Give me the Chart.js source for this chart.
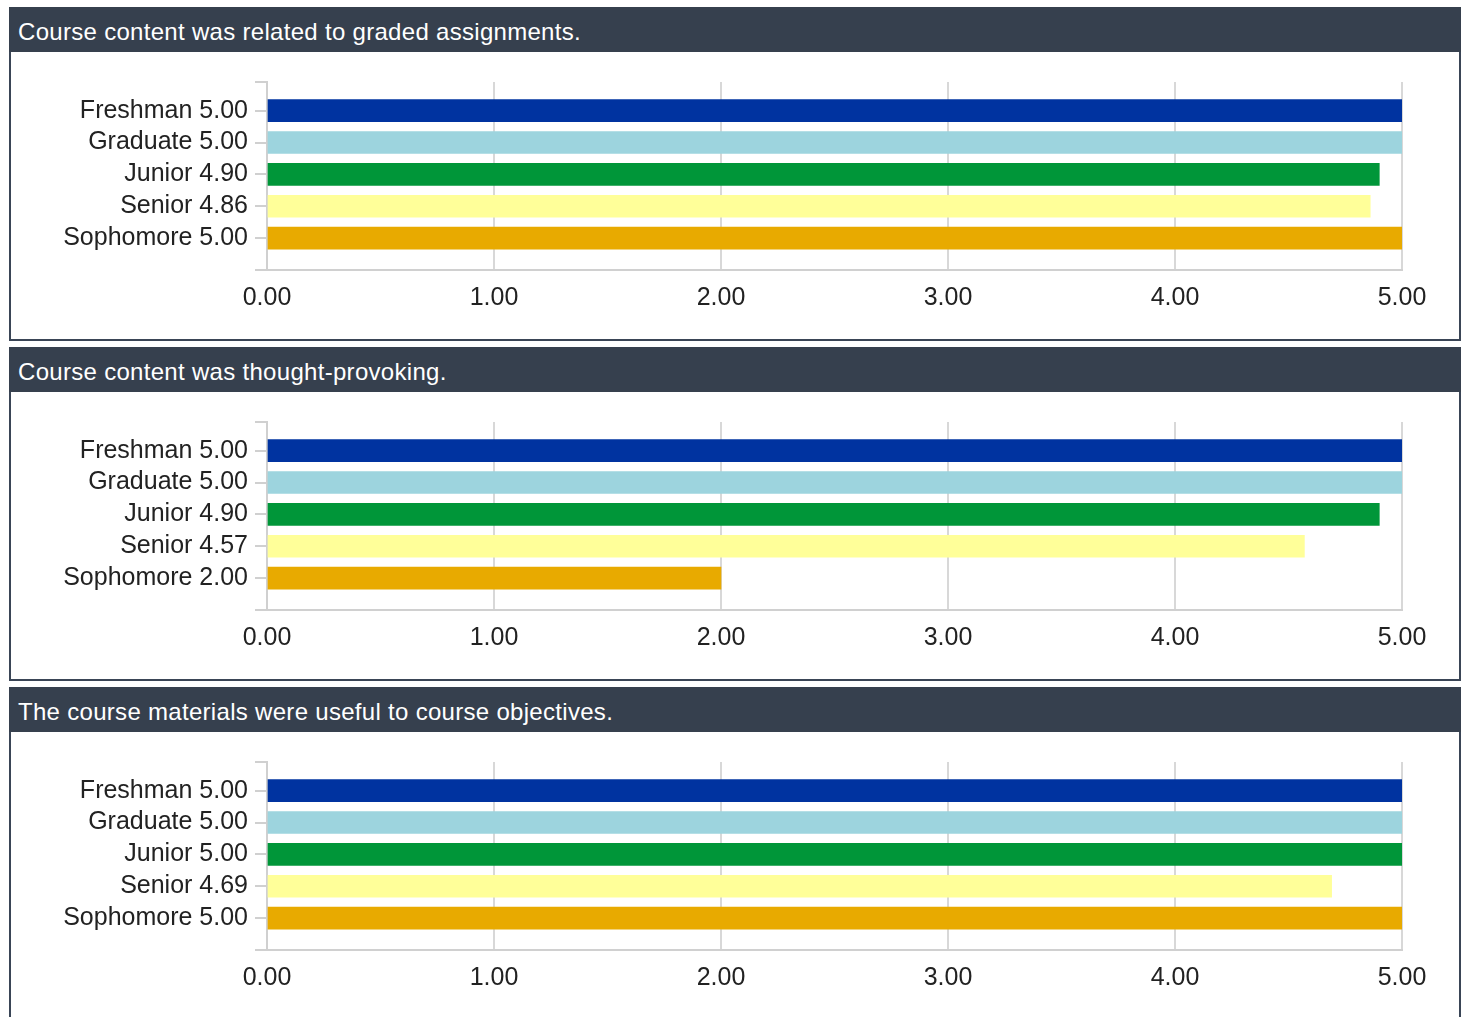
<!DOCTYPE html>
<html>
<head>
<meta charset="utf-8">
<script src="https://cdn.jsdelivr.net/npm/chart.js@4.4.0/dist/chart.umd.min.js"></script>
<style>
  body { margin: 0; background: #fff; font-family: "Liberation Sans", Arial, sans-serif; }
  .panel { position: absolute; left: 9px; width: 1452px; }
  .head { height: 45px; background: #36404e; color: #fff; font-size: 24px; letter-spacing: 0.3px; line-height: 50px; padding-left: 9px; box-sizing: border-box; }
  .body { height: 289px; border: 2px solid #3a4556; border-top: none; box-sizing: border-box; }
  .wrap { position: relative; width: 1448px; height: 287px; }
</style>
</head>
<body>

<script>
const categories = ["Freshman", "Graduate", "Junior", "Senior", "Sophomore"];
const titles = [
  "Course content was related to graded assignments.",
  "Course content was thought-provoking.",
  "The course materials were useful to course objectives."
];
const relatedScores = [5.00, 5.00, 4.90, 4.86, 5.00];
const thoughtScores = [5.00, 5.00, 4.90, 4.57, 2.00];
const usefulScores = [5.00, 5.00, 5.00, 4.69, 5.00];
const barColors = ["#0033a0", "#9dd4de", "#009639", "#ffff99", "#e8aa00"];
const xTicks = [0, 1, 2, 3, 4, 5];

const allScores = [relatedScores, thoughtScores, usefulScores];
const font = "'Liberation Sans', Arial, sans-serif";

allScores.forEach((scores, i) => {
  let panel = document.createElement("div");
  panel.className = "panel";
  panel.style.top = (7 + i * 340) + "px";
  panel.innerHTML = '<div class="head"></div><div class="body"><div class="wrap"><canvas></canvas></div></div>';
  panel.querySelector(".head").textContent = titles[i];
  document.body.appendChild(panel);

  new Chart(panel.querySelector("canvas"), {
    type: "bar",
    data: {
      datasets: [{
        data: scores.map((v, k) => ({ x: v, y: k })),
        backgroundColor: barColors,
        barThickness: 22
      }]
    },
    options: {
      indexAxis: "y",
      responsive: true,
      maintainAspectRatio: false,
      devicePixelRatio: 1,
      animation: false,
      layout: { padding: { top: 30, right: 57, bottom: 0, left: 0 } },
      plugins: { legend: { display: false }, tooltip: { enabled: false } },
      scales: {
        x: {
          type: "linear",
          min: 0,
          max: 5,
          afterBuildTicks: (s) => { s.ticks = xTicks.map(v => ({ value: v })); },
          afterFit: (s) => { s.height = 69; },
          grid: { color: "#d8d8d8", lineWidth: 2, drawTicks: false },
          border: { color: "#d0d0d0", width: 2 },
          ticks: {
            padding: 13,
            color: "#222",
            font: { size: 25, family: font },
            callback: (v) => Number(v).toFixed(2)
          }
        },
        y: {
          type: "linear",
          reverse: true,
          offset: false,
          min: -0.9,
          max: 5,
          afterBuildTicks: (s) => { s.ticks = [-0.9, 0, 1, 2, 3, 4, 5].map(v => ({ value: v })); },
          afterFit: (s) => { s.width = 256; },
          grid: { offset: false, drawOnChartArea: false, tickLength: 12, color: "#d0d0d0", lineWidth: 2 },
          border: { color: "#d0d0d0", width: 2 },
          ticks: {
            autoSkip: false,
            padding: 7,
            color: "#222",
            font: { size: 25, family: font },
            callback: (v) => (Number.isInteger(v) && v < categories.length) ? categories[v] + " " + scores[v].toFixed(2) : ""
          }
        }
      }
    }
  });
});
</script>
</body>
</html>
